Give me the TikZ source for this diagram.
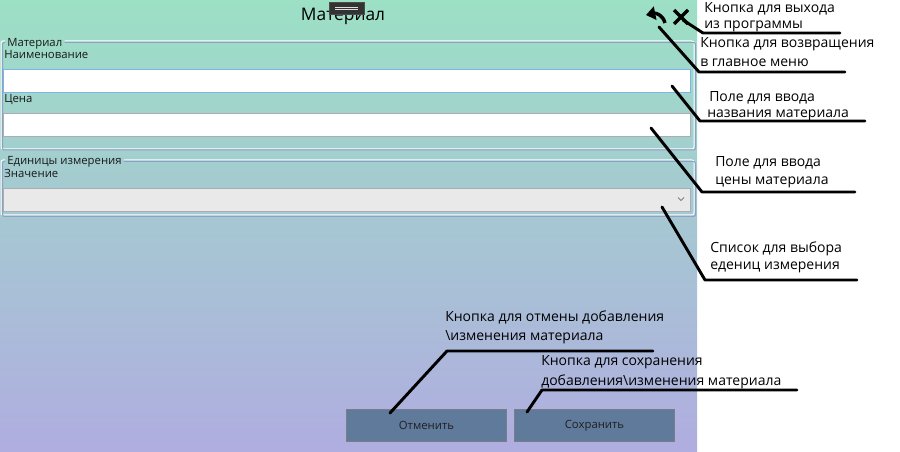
\documentclass[tikz,border=0pt]{standalone}
\usepackage{fontspec}
\setmainfont{Open Sans}
\usetikzlibrary{arrows.meta, positioning}

\definecolor{winTop}{RGB}{156,224,197}
\definecolor{winBot}{RGB}{176,173,224}
\definecolor{frameOut}{RGB}{140,160,196}
\definecolor{fieldFocus}{RGB}{126,180,234}
\definecolor{fieldEdge}{RGB}{171,173,179}
\definecolor{comboFill}{RGB}{233,233,233}
\definecolor{btnFill}{RGB}{96,122,155}
\definecolor{btnEdge}{RGB}{120,126,136}
\definecolor{dragFill}{RGB}{51,51,51}

\begin{document}
\begin{tikzpicture}[
    x=0.75pt, y=-0.75pt,
    font=\fontsize{8.5}{11}\selectfont,
    >=Stealth,
    caption/.style  = {anchor=base west, inner sep=0pt, text=black!90},
    field/.style    = {draw=fieldEdge, fill=white, line width=0.75pt,
      anchor=north west, inner sep=0pt,
    minimum width=515pt, minimum height=17.5pt},
    button/.style   = {draw=btnEdge, fill=btnFill, line width=0.75pt,
      anchor=north west, text=black!88,
    minimum width=120pt, minimum height=24pt},
    note/.style     = {anchor=base west, align=left, inner sep=0pt,
    font=\fontsize{10.5}{13.5}\selectfont},
    lead/.style     = {line width=2.2pt, line join=round, line cap=round},
    frameBox/.style = {draw=frameOut, line width=0.75pt, rounded corners=1.5pt},
    frameLit/.style = {draw=white, line width=0.75pt, rounded corners=1.5pt},
    icon/.style     = {line width=2.6pt, black}
  ]

  \useasboundingbox (0,0) rectangle (900,452);
  \fill[white] (0,0) rectangle (900,452);

  % ---------------- window ----------------
  \shade[top color=winTop, bottom color=winBot] (0,0) rectangle (697,452);

  \node[anchor=base, font=\fontsize{13}{16}\selectfont] (winTitle) at (343,21) {Материал};
  \node[fill=dragFill, draw=black!70, inner sep=0pt,
  minimum width=26pt, minimum height=9pt] (dragBtn) at (346.5,8) {};
  \draw[white!75!gray, line width=0.5pt] (335,7) -- (358,7) (335,9.5) -- (358,9.5);

  % back / exit icons
  \coordinate (backIcon) at (654,18);
  \coordinate (exitIcon) at (681,17);
  \draw[icon, -{Triangle[length=7pt, width=10pt]}]
  (665,23) .. controls (663,15) and (656,13) .. (646,15);
  \draw[icon] (674,10) -- (688,24) (688,10) -- (674,24);

  % ---------------- group "Материал" ----------------
  \node[caption, inner xsep=1.5pt] (grpMat) at (5,47) {Материал};
  \draw[frameLit] (grpMat.west |- 0,41) -- (1,41) -- (1,149) -- (694,149) -- (694,41) -- (grpMat.east |- 0,41);
  \draw[frameBox] (grpMat.west |- 0,42.5) -- (2.5,42.5) -- (2.5,150) -- (695.5,150) -- (695.5,42.5) -- (grpMat.east |- 0,42.5);

  \node[caption] (lblName) at (4,59) {Наименование};
  \node[field, draw=fieldFocus] (fldName) at (3,69) {};
  \node[caption] (lblPrice) at (4,103) {Цена};
  \node[field] (fldPrice) at (3,113) {};

  % ---------------- group "Единицы измерения" ----------------
  \node[caption, inner xsep=1.5pt] (grpUnit) at (5,165) {Единицы измерения};
  \draw[frameLit] (grpUnit.west |- 0,160) -- (1,160) -- (1,215) -- (694,215) -- (694,160) -- (grpUnit.east |- 0,160);
  \draw[frameBox] (grpUnit.west |- 0,161.5) -- (2.5,161.5) -- (2.5,216.5) -- (695.5,216.5) -- (695.5,161.5) -- (grpUnit.east |- 0,161.5);

  \node[caption] (lblUnit) at (4,178) {Значение};
  \node[field, fill=comboFill] (cmbUnit) at (3,188) {};
  \draw[gray, line width=0.6pt] (678,197.5) -- (681,200.5) -- (684,197.5);

  % ---------------- buttons ----------------
  \node[button] (btnCancel) at (346,409) {Отменить};
  \node[button] (btnSave)   at (514,409) {Сохранить};

  % ---------------- notes (anchored at the last line) ----------------
  \node[note, font=\fontsize{10.5}{12}\selectfont]
  (noteExit)   at (704,29)  {Кнопка для выхода\\из программы};
  \node[note, font=\fontsize{10.5}{14.25}\selectfont]
  (noteBack)   at (700,67)  {Кнопка для возвращения\\в главное меню};
  \node[note, font=\fontsize{10.5}{12}\selectfont]
  (noteName)   at (707,118) {\hspace*{1.5pt}Поле для ввода\\названия материала};
  \node[note]  (notePrice)  at (715,185) {Поле для ввода\\цены материала};
  \node[note, font=\fontsize{10.5}{12.75}\selectfont]
  (noteUnit)   at (710,270) {Список для выбора\\ едениц измерения};
  \node[note]  (noteCancel) at (445,340) {Кнопка для отмены добавления\\\textbackslash изменения материала};
  \node[note, font=\fontsize{10.5}{14.25}\selectfont]
  (noteSave)   at (541,385) {Кнопка для сохранения\\добавления\textbackslash изменения материала};

  % ---------------- leaders ----------------
  \coordinate (tgtExit)   at (683,20);
  \coordinate (tgtBack)   at (659,27);
  \coordinate (tgtName)   at (672,86);
  \coordinate (tgtPrice)  at (651,128);
  \coordinate (tgtUnit)   at (662,207);
  \coordinate (tgtCancel) at (390,413);
  \coordinate (tgtSave)   at (527,412);

  \draw[lead] (tgtExit)   -- (703,33)  -- (840,33);
  \draw[lead] (tgtBack)   -- (699,72)  -- (845,72);
  \draw[lead] (tgtName)   -- (700,121) -- (865,121);
  \draw[lead] (tgtPrice)  -- (702,192) -- (855,192);
  \draw[lead] (tgtUnit)   -- (705,280) -- (857,280);
  \draw[lead] (tgtCancel) -- (447,351) -- (653,351);
  \draw[lead] (tgtSave)   -- (542,390) -- (797,390);

\end{tikzpicture}
\end{document}
